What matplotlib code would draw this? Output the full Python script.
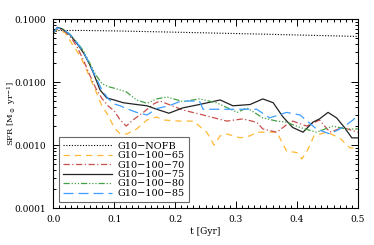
import numpy as np
import matplotlib.pyplot as plt
from matplotlib.ticker import LogLocator, MultipleLocator, FixedLocator

plt.rcParams['font.family'] = ['DejaVu Serif']
plt.rcParams['mathtext.fontset'] = 'dejavuserif'
plt.rcParams['xtick.labelsize'] = 6.5
plt.rcParams['ytick.labelsize'] = 6.5

# data, SFR in Msun/yr against t in Gyr
t_nofb = [0.0, 0.01, 0.05, 0.1, 0.2, 0.3, 0.4, 0.5]
sfr_nofb = [0.062, 0.066, 0.066, 0.065, 0.062, 0.059, 0.056, 0.053]

t_65 = [0.0, 0.005, 0.01, 0.02, 0.03, 0.04, 0.05, 0.06, 0.07, 0.08, 0.09, 0.1,
        0.11, 0.121, 0.137, 0.154, 0.17, 0.18, 0.208, 0.23, 0.252, 0.264, 0.274,
        0.285, 0.307, 0.323, 0.334, 0.35, 0.367, 0.383, 0.4, 0.408, 0.416,
        0.428, 0.449, 0.47, 0.487, 0.5]
sfr_65 = [0.058, 0.066, 0.068, 0.06, 0.042, 0.03, 0.02, 0.012, 0.0072, 0.0042,
          0.003, 0.0019, 0.0015, 0.0015, 0.0018, 0.0025, 0.0028, 0.0025, 0.0024,
          0.0024, 0.0016, 0.001, 0.0014, 0.0015, 0.0013, 0.0014, 0.0016, 0.0016,
          0.0016, 0.0008, 0.00076, 0.0006, 0.00078, 0.0014, 0.0016, 0.0013,
          0.0009, 0.0009]

t_70 = [0.0, 0.005, 0.01, 0.02, 0.03, 0.04, 0.05, 0.06, 0.07, 0.08, 0.09, 0.1,
        0.11, 0.12, 0.131, 0.148, 0.165, 0.175, 0.19, 0.213, 0.246, 0.285, 0.311,
        0.334, 0.344, 0.367, 0.383, 0.393, 0.416, 0.437, 0.454, 0.475, 0.5]
sfr_70 = [0.06, 0.068, 0.07, 0.063, 0.05, 0.035, 0.022, 0.013, 0.008, 0.0055,
          0.0042, 0.0035, 0.0025, 0.002, 0.0025, 0.0033, 0.0045, 0.005, 0.0044,
          0.0036, 0.003, 0.0024, 0.0026, 0.0023, 0.0018, 0.0016, 0.0021, 0.0024,
          0.002, 0.0025, 0.0016, 0.0019, 0.0016]

t_75 = [0.0, 0.007, 0.015, 0.028, 0.04, 0.05, 0.06, 0.066, 0.077, 0.088, 0.1,
        0.115, 0.137, 0.154, 0.17, 0.19, 0.213, 0.24, 0.274, 0.295, 0.323, 0.344,
        0.361, 0.377, 0.393, 0.41, 0.426, 0.437, 0.451, 0.465, 0.478, 0.49, 0.5]
sfr_75 = [0.06, 0.074, 0.07, 0.056, 0.04, 0.029, 0.019, 0.014, 0.0075, 0.0056,
          0.0052, 0.0047, 0.0044, 0.0042, 0.0037, 0.0032, 0.0039, 0.0044, 0.0052,
          0.0042, 0.0044, 0.0054, 0.0047, 0.0028, 0.0019, 0.0016, 0.0023, 0.0026,
          0.0033, 0.0027, 0.0019, 0.0013, 0.0013]

t_80 = [0.0, 0.007, 0.015, 0.028, 0.04, 0.05, 0.06, 0.07, 0.08, 0.09, 0.1, 0.11,
        0.12, 0.137, 0.154, 0.17, 0.187, 0.213, 0.24, 0.268, 0.302, 0.318,
        0.344, 0.367, 0.383, 0.405, 0.432, 0.459, 0.48, 0.5]
sfr_80 = [0.06, 0.072, 0.07, 0.057, 0.042, 0.031, 0.02, 0.013, 0.0095, 0.0085,
          0.008, 0.0075, 0.007, 0.0052, 0.0046, 0.0054, 0.0058, 0.0049, 0.0054,
          0.0047, 0.0033, 0.0039, 0.0027, 0.0024, 0.0023, 0.0019, 0.0016, 0.002,
          0.0018, 0.0018]

t_85 = [0.0, 0.007, 0.015, 0.028, 0.04, 0.05, 0.06, 0.07, 0.08, 0.09, 0.1, 0.11,
        0.12, 0.137, 0.154, 0.17, 0.19, 0.21, 0.24, 0.246, 0.27, 0.3, 0.334,
        0.355, 0.383, 0.405, 0.432, 0.454, 0.475, 0.492, 0.5]
sfr_85 = [0.06, 0.073, 0.07, 0.057, 0.041, 0.03, 0.019, 0.012, 0.0075, 0.0055,
          0.0045, 0.0042, 0.0038, 0.0033, 0.003, 0.0038, 0.0042, 0.005, 0.005,
          0.0037, 0.0037, 0.0037, 0.0037, 0.0027, 0.0033, 0.003, 0.0018, 0.0015,
          0.0019, 0.0025, 0.003]

labels = ['G10\u2212NOFB', 'G10\u2212100\u221265', 'G10\u2212100\u221270',
          'G10\u2212100\u221275', 'G10\u2212100\u221280', 'G10\u2212100\u221285']

fig = plt.figure(figsize=(3.74, 2.45), dpi=100)
ax = fig.add_axes([0.142, 0.151, 0.815, 0.771])

ax.plot(t_nofb, sfr_nofb, color='black', lw=0.8, ls=(0, (1, 1.5)), label=labels[0])
ax.plot(t_65, sfr_65, color='#FFB835', lw=0.9, ls=(0, (5, 4)), label=labels[1])
ax.plot(t_70, sfr_70, color='#C8504D', lw=0.9, ls=(0, (5, 2, 1, 2)), label=labels[2])
ax.plot(t_75, sfr_75, color='#222222', lw=0.9, ls='-', label=labels[3])
ax.plot(t_80, sfr_80, color='#45A045', lw=0.9, ls=(0, (5, 1.5, 1, 1.5, 1, 1.5, 1, 1.5)),
        label=labels[4])
ax.plot(t_85, sfr_85, color='#3D9EFF', lw=0.9, ls=(0, (8, 4)), label=labels[5])

ax.set_yscale('log')
ax.set_xlim(0, 0.5)
ax.set_ylim(1e-4, 0.1)
ax.yaxis.set_major_locator(FixedLocator([1e-4, 1e-3, 1e-2, 1e-1]))
ax.yaxis.set_minor_locator(LogLocator(base=10, subs=np.arange(2, 10), numticks=10))
ax.set_yticklabels(['0.0001', '0.0010', '0.0100', '0.1000'])
ax.yaxis.set_minor_formatter(plt.NullFormatter())
ax.xaxis.set_major_locator(MultipleLocator(0.1))
ax.xaxis.set_minor_locator(MultipleLocator(0.01))
ax.set_xticks([0.0, 0.1, 0.2, 0.3, 0.4, 0.5])
ax.set_xticklabels(['0.0', '0.1', '0.2', '0.3', '0.4', '0.5'])
ax.tick_params(which='both', direction='in', top=True, right=True, width=0.7)
ax.tick_params(which='major', length=5, pad=5)
ax.tick_params(which='minor', length=2.5)
for s in ax.spines.values():
    s.set_linewidth(0.8)

ax.set_xlabel('t [Gyr]', fontsize=6.5, labelpad=2)
ax.set_ylabel(r'SFR [M$_\odot$ yr$^{-1}$]', fontsize=6)
ax.yaxis.set_label_coords(-0.115, 0.5)

leg = ax.legend(loc='lower left', bbox_to_anchor=(0.018, 0.03), fontsize=7,
                frameon=True, fancybox=False, edgecolor='#444444',
                handlelength=5.0, handletextpad=0.6, labelspacing=0.05,
                borderpad=0.45, borderaxespad=0)
leg.get_frame().set_linewidth(0.8)

fig.savefig('out.png', dpi=100)
